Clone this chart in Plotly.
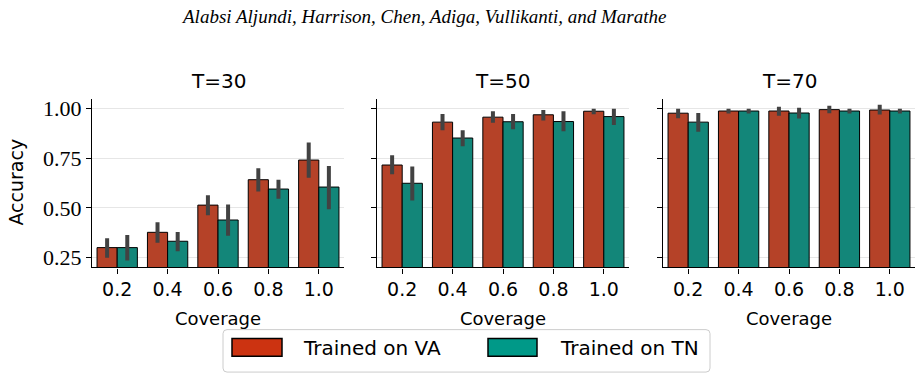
import plotly.graph_objects as go

W, H = 922, 380

coverage = ["0.2", "0.4", "0.6", "0.8", "1.0"]
panel_titles = ["T=30", "T=50", "T=70"]
series_names = ["Trained on VA", "Trained on TN"]

# T=30
va30_mean = [0.300, 0.377, 0.514, 0.642, 0.741]
va30_lo = [0.249, 0.325, 0.463, 0.582, 0.652]
va30_hi = [0.347, 0.428, 0.564, 0.700, 0.829]
tn30_mean = [0.300, 0.332, 0.439, 0.595, 0.605]
tn30_lo = [0.235, 0.282, 0.360, 0.546, 0.493]
tn30_hi = [0.363, 0.378, 0.517, 0.642, 0.711]

# T=50
va50_mean = [0.716, 0.932, 0.957, 0.969, 0.987]
va50_lo = [0.670, 0.891, 0.929, 0.940, 0.972]
va50_hi = [0.765, 0.973, 0.987, 0.993, 1.000]
tn50_mean = [0.624, 0.852, 0.934, 0.935, 0.960]
tn50_lo = [0.537, 0.811, 0.896, 0.886, 0.917]
tn50_hi = [0.708, 0.891, 0.973, 0.987, 1.000]

# T=70
va70_mean = [0.977, 0.988, 0.988, 0.995, 0.993]
va70_lo = [0.952, 0.975, 0.964, 0.977, 0.970]
va70_hi = [1.000, 1.000, 1.010, 1.015, 1.020]
tn70_mean = [0.932, 0.988, 0.978, 0.988, 0.988]
tn70_lo = [0.884, 0.975, 0.950, 0.975, 0.975]
tn70_hi = [0.978, 1.000, 1.005, 1.000, 1.000]

y_ticks = [0.25, 0.50, 0.75, 1.00]
y_range = [0.2, 1.05]

bar_colors = ["#B54228", "#138679"]
legend_colors = ["#CC3311", "#009988"]
err_color = "#424242"

panels = [
    [(va30_mean, va30_lo, va30_hi), (tn30_mean, tn30_lo, tn30_hi)],
    [(va50_mean, va50_lo, va50_hi), (tn50_mean, tn50_lo, tn50_hi)],
    [(va70_mean, va70_lo, va70_hi), (tn70_mean, tn70_lo, tn70_hi)],
]

# pixel layout
x_px = [(92, 344), (377, 629), (663, 915)]
y_top, y_bot = 98, 269

SANS = "DejaVu Sans"
SERIF = "Liberation Serif"

def px(x): return x / W
def py(y): return 1 - y / H

fig = go.Figure()
layout = dict(
    width=W, height=H,
    margin=dict(l=0, r=0, t=0, b=0),
    paper_bgcolor="white", plot_bgcolor="white",
    barmode="group", bargap=0.2, bargroupgap=0,
    showlegend=False,
    annotations=[], shapes=[],
)

for i, series in enumerate(panels):
    sfx = "" if i == 0 else str(i + 1)
    for j, (m, lo, hi) in enumerate(series):
        fig.add_trace(go.Bar(
            x=coverage, y=m, name=series_names[j],
            xaxis="x" + sfx, yaxis="y" + sfx,
            marker=dict(color=bar_colors[j], line=dict(color="black", width=1)),
            error_y=dict(type="data", symmetric=False,
                         array=[h - v for h, v in zip(hi, m)],
                         arrayminus=[v - l for v, l in zip(m, lo)],
                         color=err_color, thickness=4, width=0),
        ))
    x0, x1 = x_px[i]
    layout["xaxis" + sfx] = dict(
        domain=[px(x0), px(x1)], anchor="y" + sfx, type="category",
        range=[-0.5, 4.5], showline=True, linecolor="black", linewidth=1.25,
        ticks="outside", ticklen=5, tickwidth=1.25, tickcolor="black",
        showgrid=False, zeroline=False,
        tickfont=dict(family=SANS, size=19, color="black"),
        title=dict(text="Coverage", font=dict(family=SANS, size=18, color="black"), standoff=13),
    )
    layout["yaxis" + sfx] = dict(
        domain=[py(y_bot), py(y_top)], anchor="x" + sfx,
        range=y_range, showline=True, linecolor="black", linewidth=1.25,
        ticks="outside", ticklen=5, tickwidth=1.25, tickcolor="black",
        tickvals=y_ticks, ticktext=["%.2f" % v for v in y_ticks],
        showticklabels=(i == 0),
        showgrid=True, gridcolor="#e6e6e6", gridwidth=1, zeroline=False,
        tickfont=dict(family=SERIF, size=22, color="black"),
    )
    layout["annotations"].append(dict(
        text=panel_titles[i], x=px((x0 + x1) / 2), y=py(80),
        xref="paper", yref="paper", xanchor="center", yanchor="middle",
        showarrow=False, font=dict(family=SANS, size=20, color="black"),
    ))

# y-axis title
layout["annotations"].append(dict(
    text="Accuracy", x=px(16), y=py(183), xref="paper", yref="paper",
    xanchor="center", yanchor="middle", textangle=-90, showarrow=False,
    font=dict(family=SANS, size=19, color="black"),
))

# header
layout["annotations"].append(dict(
    text="<i>Alabsi Aljundi, Harrison, Chen, Adiga, Vullikanti, and Marathe</i>",
    x=px(423), y=py(15), xref="paper", yref="paper",
    xanchor="center", yanchor="middle", showarrow=False,
    font=dict(family=SERIF, size=19, color="black"),
))

# legend box (rounded)
lx0, lx1, ly0, ly1, r = 223, 710, 332, 375, 4
path = (f"M {px(lx0 + r)} {py(ly0)} L {px(lx1 - r)} {py(ly0)} Q {px(lx1)} {py(ly0)} {px(lx1)} {py(ly0 + r)} "
        f"L {px(lx1)} {py(ly1 - r)} Q {px(lx1)} {py(ly1)} {px(lx1 - r)} {py(ly1)} "
        f"L {px(lx0 + r)} {py(ly1)} Q {px(lx0)} {py(ly1)} {px(lx0)} {py(ly1 - r)} "
        f"L {px(lx0)} {py(ly0 + r)} Q {px(lx0)} {py(ly0)} {px(lx0 + r)} {py(ly0)} Z")
layout["shapes"].append(dict(type="path", path=path, xref="paper", yref="paper",
                             line=dict(color="#cccccc", width=1), fillcolor="white"))
patch_x = [(232, 282), (488, 537)]
text_x = [301, 558]
for j in range(2):
    a, b = patch_x[j]
    layout["shapes"].append(dict(type="rect", xref="paper", yref="paper",
                                 x0=px(a), x1=px(b), y0=py(359), y1=py(341),
                                 line=dict(color="black", width=1.5), fillcolor=legend_colors[j]))
    layout["annotations"].append(dict(
        text=series_names[j], x=px(text_x[j]), y=py(351), xref="paper", yref="paper",
        xanchor="left", yanchor="middle", showarrow=False,
        font=dict(family=SANS, size=20, color="black"),
    ))

fig.update_layout(**layout)
fig.write_html("out.html")
